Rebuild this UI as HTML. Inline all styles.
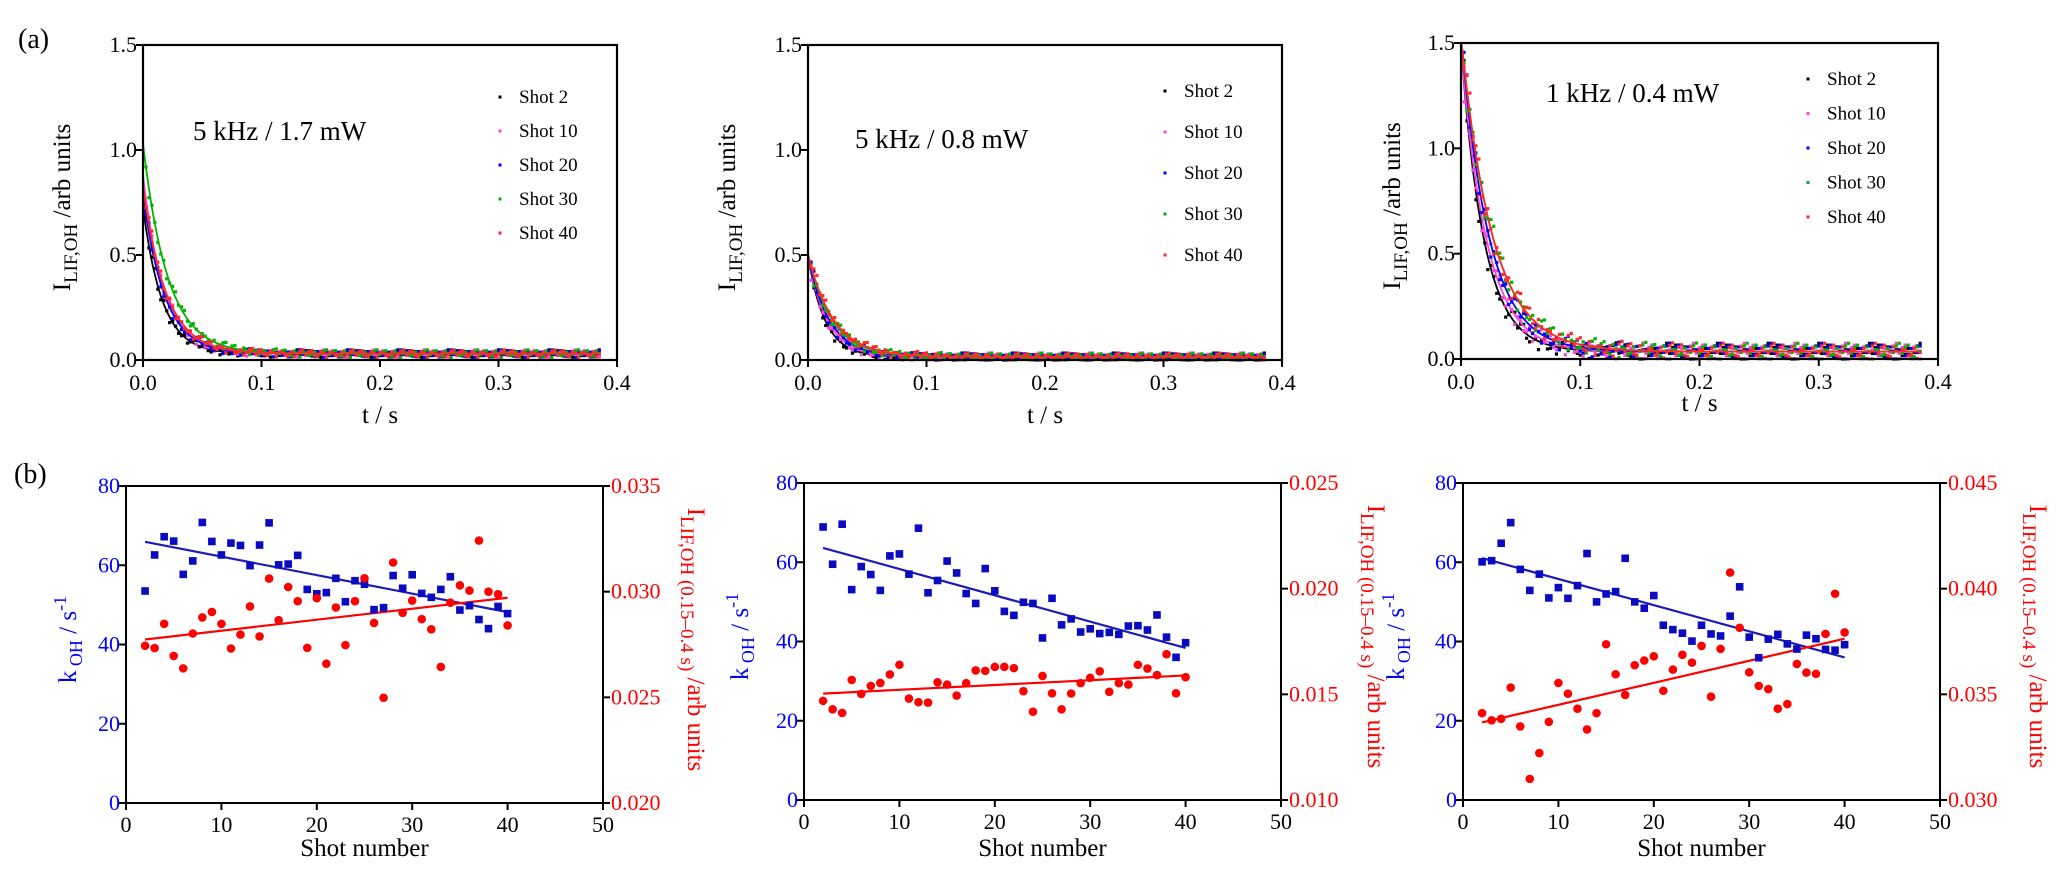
<!DOCTYPE html>
<html><head><meta charset="utf-8"><style>
html,body{margin:0;padding:0;background:#fff;}
svg{display:block;font-family:"Liberation Serif","Times New Roman",serif;}
</style></head><body>
<svg id="fig" width="2067" height="895" viewBox="0 0 2067 895" xmlns="http://www.w3.org/2000/svg">
<text x="18" y="48" font-size="28">(a)</text>
<text x="14" y="483" font-size="28">(b)</text>
</svg>
<script>
// ---------- data: top decay panels ----------
const shotNames = ["Shot 2","Shot 10","Shot 20","Shot 30","Shot 40"];
const decayAmp1 = [0.70,0.85,0.76,1.00,0.80];
const decayK1 = [62,57,55,48,52];
const decayBase1 = 0.03;
const decayAmp2 = [0.48,0.48,0.48,0.49,0.49];
const decayK2 = [70,62,56,50,47];
const decayBase2 = 0.015;
const decayAmp3 = [1.45,1.45,1.50,1.50,1.50];
const decayK3 = [52,47,43,38,38];
const decayBase3 = 0.035;
const residuals = [0.012,-0.008,0.004,-0.015,0.009,0.001,-0.006,0.018,-0.011,0.003,-0.002,0.014,-0.017,0.007,-0.004,0.010,-0.009];
const timeTicks = [0.0,0.1,0.2,0.3,0.4];
const intensityTicks = [0.0,0.5,1.0,1.5];
const panelTitles = ["5 kHz / 1.7 mW","5 kHz / 0.8 mW","1 kHz / 0.4 mW"];

// ---------- data: bottom shot panels ----------
const shots = [];
for (let s = 2; s <= 40; s++) shots.push(s);
const kOH1 = [53.5,62.6,67.2,66.1,57.7,61.1,70.8,66,62.6,65.6,65,59.9,65.1,70.7,60.1,60.3,62.5,53.9,52.8,53.1,56.7,50.8,56.1,55.2,48.8,49.3,57.4,54.2,57.6,52.9,51.9,53.9,57.1,48.7,49.8,46.3,44,49.6,47.8];
const lif1 = [0.02744,0.02733,0.02848,0.02696,0.02637,0.02802,0.02878,0.02904,0.02848,0.02731,0.02797,0.0293,0.02788,0.03062,0.02865,0.03022,0.02955,0.02734,0.02969,0.02659,0.02925,0.02747,0.02955,0.03063,0.02852,0.02498,0.03138,0.029,0.02958,0.0287,0.02822,0.02644,0.02948,0.0303,0.03005,0.03242,0.03,0.02988,0.0284];
const kOH2 = [68.9,59.5,69.6,53.1,58.9,56.9,52.9,61.6,62.1,57,68.6,52.3,55.4,60.3,57.3,52.1,49.6,58.4,52.8,47.6,46.6,49.9,49.6,40.9,50.9,44.2,45.7,42.4,43.2,42,42.3,41.8,43.9,44,42.9,46.7,41.1,36,39.7];
const lif2 = [0.01469,0.01429,0.01412,0.01568,0.01502,0.0154,0.01554,0.01594,0.0164,0.0148,0.01463,0.01461,0.01557,0.01546,0.01494,0.01553,0.01613,0.01611,0.0163,0.0163,0.01624,0.01515,0.01418,0.01587,0.01505,0.01429,0.01504,0.01553,0.01578,0.01609,0.01512,0.01553,0.01546,0.0164,0.01622,0.01591,0.0169,0.01505,0.01581];
const kOH3 = [60.1,60.4,64.8,70,58.2,52.9,57,51,53.6,50.9,54.1,62.2,50,52,52.6,61,50,48.4,51.6,44.1,43,42.1,40.1,44.1,41.9,41.4,46.4,53.8,41.1,35.9,40.6,41.8,39.4,38.1,41.6,40.7,38,37.8,39.2];
const lif3 = [0.03411,0.03377,0.03384,0.03532,0.03348,0.031,0.03222,0.0337,0.03554,0.03503,0.03432,0.03334,0.03411,0.03737,0.03595,0.03497,0.03638,0.0366,0.0368,0.03517,0.03617,0.03687,0.0365,0.03729,0.03489,0.03715,0.04076,0.03815,0.03604,0.0354,0.03525,0.03432,0.03454,0.03644,0.03603,0.03597,0.03786,0.03976,0.03793];
const shotTicks = [0,10,20,30,40,50];
const kTicks = [0,20,40,60,80];
const lifTicks1 = ["0.020","0.025","0.030","0.035"];
const lifTicks2 = ["0.010","0.015","0.020","0.025"];
const lifTicks3 = ["0.030","0.035","0.040","0.045"];

const NS = "http://www.w3.org/2000/svg";
const svg = document.getElementById('fig');
function mk(tag, attrs, parent, text) {
  const e = document.createElementNS(NS, tag);
  for (const k in attrs) e.setAttribute(k, attrs[k]);
  if (text !== undefined) e.textContent = text;
  (parent || svg).appendChild(e);
  return e;
}
const seriesColors = ["#000000","#ff44dd","#0000ff","#00b400","#ff2a2a"];

function topPanel(idx, L, R, T, B, amps, ks, base, titleX, titleY, legX, legY0, legDy, ytX, tsY) {
  const g = mk('g', {});
  
  
  const xs = t => L + (t / 0.4) * (R - L);
  const ys = v => B - (v / 1.5) * (B - T);
  // series points and fits
  for (let s = 0; s < 5; s++) {
    const sg = mk('g', {}, g);
    
    
    const col = seriesColors[s];
    const scale = idx === 2 ? 2.2 : 1;
    for (let i = 1; i <= 154; i++) {
      const t = i * 0.0025;
      const model = amps[s] * Math.exp(-ks[s] * t) + base;
      const r = residuals[(i * 7 + s * 5) % residuals.length] * scale * (1 + 2 * Math.exp(-ks[s] * t));
      const v = Math.min(1.5, Math.max(0, model + r));
      const c = mk('rect', {x: xs(t) - 1.6, y: ys(v) - 1.6, width: 3.2, height: 3.2, fill: col}, sg);
      
      
    }
    let d = '';
    for (let i = 0; i <= 300; i++) {
      const t = i * 0.385 / 300;
      const v = Math.min(1.5, amps[s] * Math.exp(-ks[s] * t) + base);
      d += (i ? 'L' : 'M') + xs(t).toFixed(1) + ',' + ys(v).toFixed(1);
    }
    const p = mk('path', {d: d, fill: 'none', stroke: col, 'stroke-width': 1.8}, sg);
    
    
  }
  // frame
  const fr = mk('rect', {x: L, y: T, width: R - L, height: B - T, fill: 'none', stroke: '#000', 'stroke-width': 2.2}, g);
  
  
  // x ticks
  timeTicks.forEach(t => {
    mk('line', {x1: xs(t), x2: xs(t), y1: B, y2: B + 7, stroke: '#000', 'stroke-width': 2}, g);
    const tx = mk('text', {x: xs(t), y: B + 30, 'font-size': 22, 'text-anchor': 'middle'}, g, t.toFixed(1));
    
    
  });
  intensityTicks.forEach(v => {
    mk('line', {x1: L - 7, x2: L, y1: ys(v), y2: ys(v), stroke: '#000', 'stroke-width': 2}, g);
    const tx = mk('text', {x: L - 6, y: ys(v) + 7, 'font-size': 22, 'text-anchor': 'end'}, g, v.toFixed(1));
    
    
  });
  const xt = mk('text', {x: (L + R) / 2, y: tsY, 'font-size': 25, 'text-anchor': 'middle'}, g, 't / s');
  
  
  const yt = mk('text', {x: 0, y: 0, 'font-size': 25, 'text-anchor': 'middle', transform: 'translate(' + ytX + ',' + ((T + B) / 2 + 5) + ') rotate(-90)'}, g);
  
  
  mk('tspan', {}, yt, 'I');
  mk('tspan', {dy: 7, 'font-size': 19}, yt, 'LIF,OH');
  mk('tspan', {dy: -7}, yt, '  /arb units');
  const ti = mk('text', {x: titleX, y: titleY, 'font-size': 27}, g, panelTitles[idx]);
  
  
  for (let s = 0; s < 5; s++) {
    const lg = mk('g', {}, g);
    
    
    const yy = legY0 + s * legDy;
    mk('rect', {x: legX - 1.5, y: yy - 1.5, width: 3, height: 3, fill: seriesColors[s]}, lg);
    mk('text', {x: legX + 19, y: yy + 6, 'font-size': 19}, lg, shotNames[s]);
  }
}

function linfit(xa, ya) {
  const n = xa.length;
  let sx = 0, sy = 0, sxx = 0, sxy = 0;
  for (let i = 0; i < n; i++) { sx += xa[i]; sy += ya[i]; sxx += xa[i] * xa[i]; sxy += xa[i] * ya[i]; }
  const m = (n * sxy - sx * sy) / (n * sxx - sx * sx);
  return [m, (sy - m * sx) / n];
}

function bottomPanel(idx, L, R, T, B, kv, lv, lifTicks, ltX, rtX) {
  const g = mk('g', {});
  
  
  const lmin = parseFloat(lifTicks[0]), lmax = parseFloat(lifTicks[lifTicks.length - 1]);
  const xs = s => L + (s / 50) * (R - L);
  const yk = v => B - (v / 80) * (B - T);
  const yl = v => B - ((v - lmin) / (lmax - lmin)) * (B - T);
  // frame
  const fr = mk('rect', {x: L, y: T, width: R - L, height: B - T, fill: 'none', stroke: '#000', 'stroke-width': 2}, g);
  
  
  shotTicks.forEach(s => {
    mk('line', {x1: xs(s), x2: xs(s), y1: B, y2: B + 7, stroke: '#000', 'stroke-width': 2}, g);
    const tx = mk('text', {x: xs(s), y: B + 29, 'font-size': 22, 'text-anchor': 'middle'}, g, s);
    
    
  });
  kTicks.forEach(v => {
    mk('line', {x1: L - 7, x2: L, y1: yk(v), y2: yk(v), stroke: '#000', 'stroke-width': 2}, g);
    const tx = mk('text', {x: L - 6, y: yk(v) + 7, 'font-size': 22, 'text-anchor': 'end', fill: '#0000ff'}, g, v);
    
    
  });
  lifTicks.forEach(lbl => {
    const v = parseFloat(lbl);
    mk('line', {x1: R, x2: R + 7, y1: yl(v), y2: yl(v), stroke: '#000', 'stroke-width': 2}, g);
    const tx = mk('text', {x: R + 8, y: yl(v) + 7, 'font-size': 22, fill: '#ff0000'}, g, lbl);
    
    
  });
  // fits
  const fk = linfit(shots, kv), fl = linfit(shots, lv);
  const s0 = shots[0], s1 = shots[shots.length - 1];
  const lk = mk('line', {x1: xs(s0), y1: yk(fk[0] * s0 + fk[1]), x2: xs(s1), y2: yk(fk[0] * s1 + fk[1]), stroke: '#1c1cb4', 'stroke-width': 2.2}, g);
  
  
  const ll = mk('line', {x1: xs(s0), y1: yl(fl[0] * s0 + fl[1]), x2: xs(s1), y2: yl(fl[0] * s1 + fl[1]), stroke: '#ff0000', 'stroke-width': 2.2}, g);
  
  
  shots.forEach((s, i) => {
    const sq = mk('rect', {x: xs(s) - 3.8, y: yk(kv[i]) - 3.8, width: 7.6, height: 7.6, fill: '#0a0ac0'}, g);
    
    
    const c = mk('circle', {cx: xs(s), cy: yl(lv[i]), r: 4.3, fill: '#ff0000'}, g);
    
    
  });
  const xt = mk('text', {x: (L + R) / 2, y: 856, 'font-size': 25, 'text-anchor': 'middle'}, g, 'Shot number');
  
  
  const yt = mk('text', {x: 0, y: 0, 'font-size': 25, 'text-anchor': 'middle', fill: '#0000ff', transform: 'translate(' + ltX + ',' + ((T + B) / 2 - 5) + ') rotate(-90)'}, g);
  
  
  mk('tspan', {}, yt, 'k');
  mk('tspan', {dy: 6, 'font-size': 18}, yt, ' OH');
  mk('tspan', {dy: -6}, yt, ' / s');
  mk('tspan', {dy: -10, 'font-size': 18}, yt, '-1');
  const rt = mk('text', {x: 0, y: 0, 'font-size': 25, 'text-anchor': 'middle', fill: '#ff0000', transform: 'translate(' + rtX + ',' + ((T + B) / 2 - 5) + ') rotate(90)'}, g);
  
  
  mk('tspan', {}, rt, 'I');
  mk('tspan', {dy: 7, 'font-size': 19}, rt, 'LIF,OH (0.15–0.4 s)');
  mk('tspan', {dy: -7}, rt, '    /arb units');
}

topPanel(0, 143, 617, 45, 360, decayAmp1, decayK1, decayBase1, 193, 140, 500, 97, 34, 70, 423);
topPanel(1, 808, 1282, 45, 360, decayAmp2, decayK2, decayBase2, 855, 148, 1165, 91, 41, 735, 423);
topPanel(2, 1461, 1938, 43, 359, decayAmp3, decayK3, decayBase3, 1546, 102, 1808, 79, 34.5, 1400, 411);

bottomPanel(0, 126, 603, 486, 803, kOH1, lif1, lifTicks1, 76, 688);
bottomPanel(1, 804, 1281, 483, 800, kOH2, lif2, lifTicks2, 748, 1368);
bottomPanel(2, 1463, 1940, 483, 800, kOH3, lif3, lifTicks3, 1404, 2030);
</script>
</body></html>
